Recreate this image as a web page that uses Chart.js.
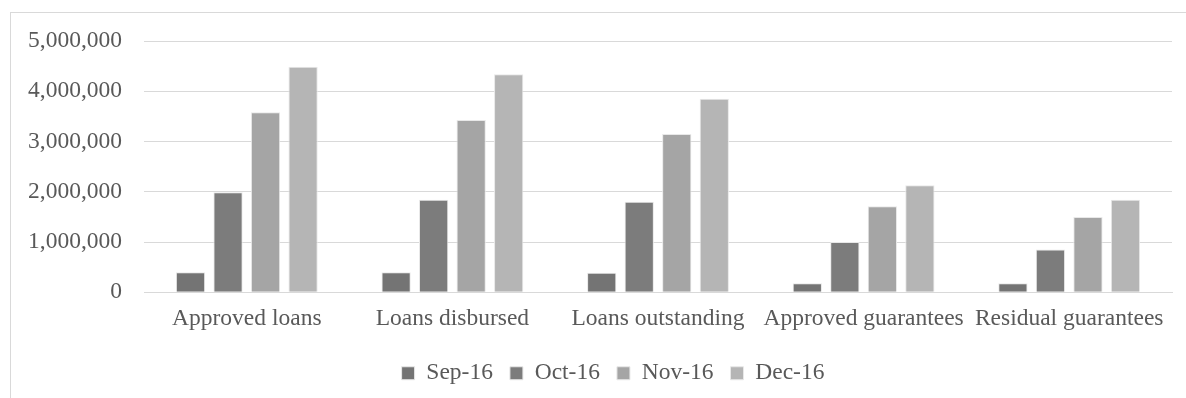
<!DOCTYPE html>
<html>
<head>
<meta charset="utf-8">
<script src="https://cdn.jsdelivr.net/npm/chart.js@4/dist/chart.umd.min.js"></script>
<style>
  html, body { margin: 0; padding: 0; background: #ffffff; overflow: hidden; }
  #wrap { position: relative; width: 1186px; height: 398px; }
  #frame { position: absolute; left: 10px; top: 12px; width: 1200px; height: 420px; border: 1px solid #d9d9d9; box-sizing: border-box; }
  #c { position: absolute; left: 0; top: 0; }
</style>
</head>
<body>
<div id="wrap">
  <div id="frame"></div>
  <canvas id="c" width="1186" height="398"></canvas>
</div>
<script>
const categories = ["Approved loans", "Loans disbursed", "Loans outstanding", "Approved guarantees", "Residual guarantees"];
const seriesNames = ["Sep-16", "Oct-16", "Nov-16", "Dec-16"];
const sep16 = [400000, 400000, 390000, 180000, 180000];
const oct16 = [1990000, 1840000, 1800000, 1000000, 850000];
const nov16 = [3580000, 3430000, 3150000, 1710000, 1500000];
const dec16 = [4490000, 4340000, 3850000, 2130000, 1840000];
const yTicks = [0, 1000000, 2000000, 3000000, 4000000, 5000000];

const colors = ["#747474", "#7c7c7c", "#a5a5a5", "#b5b5b5"];
const seriesValues = [sep16, oct16, nov16, dec16];

Chart.defaults.font.family = "'Liberation Serif', 'Times New Roman', serif";
Chart.defaults.font.size = 23.5;
Chart.defaults.color = "#595959";

const legendShift = {
  id: "legendShift",
  afterLayout(chart) {
    if (chart.legend) { chart.legend.left += 54; }
  }
};

new Chart(document.getElementById("c"), {
  type: "bar",
  data: {
    labels: categories,
    datasets: seriesNames.map((name, i) => ({
      label: name,
      data: seriesValues[i],
      backgroundColor: colors[i],
      borderColor: "#e8e8e8",
      borderWidth: 1,
      categoryPercentage: 0.73,
      barPercentage: 0.78
    }))
  },
  plugins: [legendShift],
  options: {
    responsive: false,
    animation: false,
    layout: { padding: { top: 41, right: 14, bottom: 3, left: 0 } },
    plugins: {
      tooltip: { enabled: false },
      legend: {
        position: "bottom",
        labels: { boxWidth: 13, boxHeight: 13, padding: 17, color: "#595959" }
      }
    },
    scales: {
      x: {
        grid: { display: false, drawTicks: false },
        border: { display: true, color: "#d9d9d9" },
        ticks: { padding: 12, color: "#595959", maxRotation: 0, autoSkip: false }
      },
      y: {
        min: 0,
        max: 5000000,
        afterBuildTicks: (s) => { s.ticks = yTicks.map(v => ({ value: v })); },
        afterFit: (s) => { s.width = 144; },
        grid: { color: "#d9d9d9", drawTicks: false },
        border: { display: false },
        ticks: {
          padding: 22,
          color: "#595959",
          callback: (v) => Number(v).toLocaleString("en-US")
        }
      }
    }
  }
});
</script>
</body>
</html>
